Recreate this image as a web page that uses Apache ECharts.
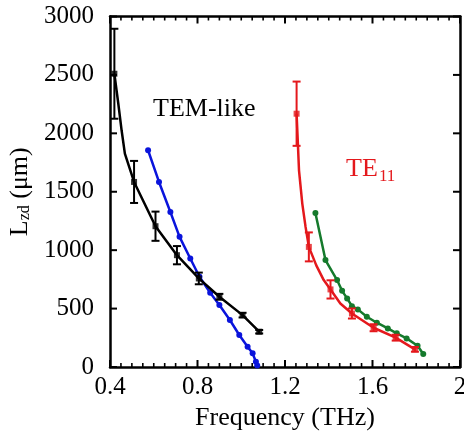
<!DOCTYPE html>
<html><head><meta charset="utf-8">
<script src="https://cdn.jsdelivr.net/npm/echarts@6/dist/echarts.min.js"></script>
<style>html,body{margin:0;padding:0;background:#fff}#c{width:464px;height:436px}</style>
</head><body><div id="c"></div>
<script>
const xTicks = [0.4, 0.8, 1.2, 1.6, 2.0];
const yTicks = [0, 500, 1000, 1500, 2000, 2500, 3000];

// TEM-like measured (black, with error bars)
const temFreq = [0.42, 0.51, 0.608, 0.706, 0.806, 0.9, 1.006, 1.082];
const temL    = [2510, 1584, 1205, 957, 758, 601, 444, 302];
const temErr  = [385, 180, 125, 78, 50, 25, 20, 15];
const temCurveFreq = [0.42, 0.438, 0.453, 0.468, 0.51, 0.608, 0.706, 0.806, 0.9, 1.006, 1.082];
const temCurveL    = [2510, 2253, 2026, 1826, 1584, 1205, 957, 758, 601, 444, 302];

// TEM-like simulated (blue)
const blueFreq = [0.574, 0.624, 0.676, 0.718, 0.767, 0.809, 0.858, 0.9, 0.948, 0.991, 1.029, 1.052, 1.067, 1.073];
const blueL    = [1855, 1584, 1327, 1114, 929, 772, 635, 530, 402, 274, 174, 117, 45, 12];

// TE11 measured (red, with error bars)
const redFreq = [1.253, 1.309, 1.408, 1.506, 1.605, 1.706, 1.794];
const redL    = [2168, 1028, 664, 458, 336, 251, 151];
const redErr  = [275, 124, 78, 43, 30, 25, 20];
const redCurveFreq = [1.253, 1.258, 1.264, 1.279, 1.294, 1.309, 1.343, 1.377, 1.408, 1.453, 1.506, 1.605, 1.706, 1.794];
const redCurveL    = [2168, 1950, 1684, 1399, 1199, 1028, 870, 744, 664, 544, 458, 336, 251, 151];

// TE11 simulated (green)
const greenFreq = [1.339, 1.385, 1.438, 1.461, 1.484, 1.506, 1.533, 1.574, 1.62, 1.67, 1.711, 1.756, 1.806, 1.832];
const greenL    = [1319, 915, 744, 652, 587, 521, 493, 430, 379, 330, 288, 245, 182, 111];

const BLACK = '#000000', BLUE = '#0a14dc', RED = '#e4181c', GREEN = '#157a2c';
const FONT = '"Liberation Serif", "Times New Roman", serif';

const zip = (a, b) => a.map((v, i) => [v, b[i]]);

function errSeries(f, L, e, color) {
  return {
    type: 'custom',
    data: f.map((x, i) => [x, L[i], e[i]]),
    z: 4,
    silent: true,
    renderItem: (params, api) => {
      const x = api.value(0), y = api.value(1), er = api.value(2);
      const t = api.coord([x, y + er]);
      const b = api.coord([x, y - er]);
      const w = 4;
      const st = { stroke: color, lineWidth: 2 };
      return { type: 'group', children: [
        { type: 'line', shape: { x1: t[0], y1: t[1], x2: b[0], y2: b[1] }, style: st },
        { type: 'line', shape: { x1: t[0] - w, y1: t[1], x2: t[0] + w, y2: t[1] }, style: st },
        { type: 'line', shape: { x1: b[0] - w, y1: b[1], x2: b[0] + w, y2: b[1] }, style: st }
      ]};
    }
  };
}

const xMin = xTicks[0], xMax = xTicks[xTicks.length - 1], xInt = xTicks[1] - xTicks[0];
const yMin = yTicks[0], yMax = yTicks[yTicks.length - 1], yInt = yTicks[1] - yTicks[0];
const MINOR_SPLIT = 8;

// tick marks (inward, on all four sides), placed through the axes' own scales
const xTickMarks = [];
for (let k = 0; k <= (xTicks.length - 1) * MINOR_SPLIT; k++) {
  xTickMarks.push([+(xMin + k * xInt / MINOR_SPLIT).toFixed(4), k % MINOR_SPLIT === 0 ? 1 : 0]);
}
const yTickMarks = yTicks.map(v => [v]);

const tickSeriesX = {
  type: 'custom', silent: true, z: 1, clip: false,
  data: xTickMarks,
  renderItem: (params, api) => {
    const v = api.value(0), major = api.value(1);
    const b = api.coord([v, yMin]), t = api.coord([v, yMax]);
    const len = major ? 7 : 4;
    const st = { stroke: '#000', lineWidth: major ? 2 : 1.6 };
    return { type: 'group', children: [
      { type: 'line', shape: { x1: b[0], y1: b[1], x2: b[0], y2: b[1] - len }, style: st },
      { type: 'line', shape: { x1: t[0], y1: t[1], x2: t[0], y2: t[1] + len }, style: st }
    ]};
  }
};
const tickSeriesY = {
  type: 'custom', silent: true, z: 1, clip: false,
  data: yTickMarks,
  encode: { y: 0 },
  renderItem: (params, api) => {
    const v = api.value(0);
    const l = api.coord([xMin, v]), r = api.coord([xMax, v]);
    const st = { stroke: '#000', lineWidth: 2 };
    return { type: 'group', children: [
      { type: 'line', shape: { x1: l[0], y1: l[1], x2: l[0] + 7, y2: l[1] }, style: st },
      { type: 'line', shape: { x1: r[0], y1: r[1], x2: r[0] - 7, y2: r[1] }, style: st }
    ]};
  }
};

const axisLine = () => ({ show: true, onZero: false, lineStyle: { color: '#000', width: 2.5 } });

const chart = echarts.init(document.getElementById('c'));
chart.setOption({
  animation: false,
  backgroundColor: '#fff',
  grid: { left: 110, right: 4, top: 16.5, bottom: 69, outerBoundsMode: 'none' },
  xAxis: [{
    type: 'value', min: xMin, max: xMax, interval: xInt,
    name: 'Frequency (THz)', nameLocation: 'middle', nameGap: 36,
    nameTextStyle: { fontFamily: FONT, fontSize: 26, color: '#000' },
    axisLine: axisLine(), axisTick: { show: false }, minorTick: { show: false },
    splitLine: { show: false },
    axisLabel: { fontFamily: FONT, fontSize: 25, color: '#000', margin: 8, hideOverlap: false,
      formatter: v => String(+v.toFixed(2)) }
  }, {
    type: 'value', position: 'top', min: xMin, max: xMax, interval: xInt,
    axisLine: axisLine(), axisTick: { show: false }, minorTick: { show: false },
    splitLine: { show: false }, axisLabel: { show: false }
  }],
  yAxis: [{
    type: 'value', min: yMin, max: yMax, interval: yInt,
    name: '{m|L}{s|zd}{m| (μm)}', nameLocation: 'middle', nameGap: 72,
    nameTextStyle: { fontFamily: FONT, fontSize: 26, color: '#000',
      rich: {
        m: { fontFamily: FONT, fontSize: 26, color: '#000', lineHeight: 26 },
        s: { fontFamily: FONT, fontSize: 16, color: '#000', lineHeight: 10, verticalAlign: 'bottom' }
      } },
    axisLine: axisLine(), axisTick: { show: false },
    splitLine: { show: false },
    axisLabel: { fontFamily: FONT, fontSize: 25, color: '#000', margin: 16,
      formatter: v => String(v) }
  }, {
    type: 'value', position: 'right', min: yMin, max: yMax, interval: yInt,
    axisLine: axisLine(), axisTick: { show: false },
    splitLine: { show: false }, axisLabel: { show: false }
  }],
  series: [
    tickSeriesX,
    tickSeriesY,
    { type: 'line', data: zip(blueFreq, blueL), symbol: 'circle', symbolSize: 6,
      lineStyle: { color: BLUE, width: 2.5 }, itemStyle: { color: BLUE }, z: 2 },
    { type: 'line', data: zip(temCurveFreq, temCurveL), showSymbol: false, symbol: 'none',
      lineStyle: { color: BLACK, width: 2.5 }, z: 3 },
    { type: 'scatter', data: zip(temFreq, temL), symbol: 'rect', symbolSize: 6,
      itemStyle: { color: BLACK }, z: 5 },
    errSeries(temFreq, temL, temErr, BLACK),
    { type: 'line', data: zip(greenFreq, greenL), symbol: 'circle', symbolSize: 6,
      lineStyle: { color: GREEN, width: 2.5 }, itemStyle: { color: GREEN }, z: 2 },
    { type: 'line', data: zip(redCurveFreq, redCurveL), showSymbol: false, symbol: 'none',
      lineStyle: { color: RED, width: 2.5 }, z: 3 },
    { type: 'scatter', data: zip(redFreq, redL), symbol: 'rect', symbolSize: 6,
      itemStyle: { color: RED }, z: 5 },
    errSeries(redFreq, redL, redErr, RED)
  ],
  graphic: [
    { type: 'text', left: 153, top: 96, style: { text: 'TEM-like', font: '26px ' + FONT, fill: '#000' } },
    { type: 'text', left: 346, top: 156, style: { text: 'TE', font: '26px ' + FONT, fill: RED } },
    { type: 'text', left: 379, top: 168, style: { text: '11', font: '17px ' + FONT, fill: RED } }
  ]
});
</script></body></html>
